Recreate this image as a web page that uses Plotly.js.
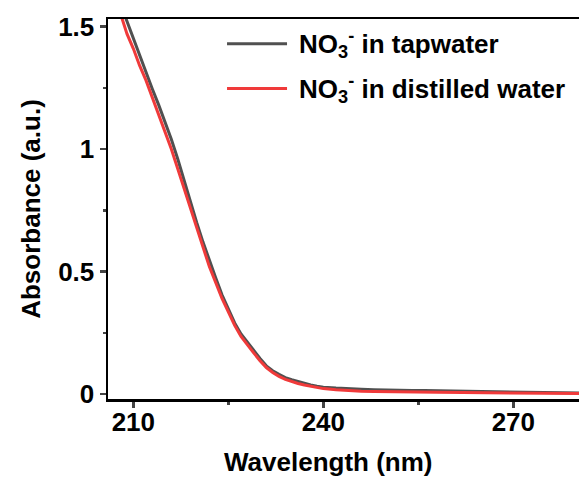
<!DOCTYPE html>
<html>
<head>
<meta charset="utf-8">
<script src="https://cdn.plot.ly/plotly-3.0.1.min.js"></script>
<style>
html,body{margin:0;padding:0;overflow:hidden;background:#fff;}
#chart{width:600px;height:486px;}
</style>
</head>
<body>
<div id="chart"></div>
<script>
// Wavelength (nm)
const wlTap = [208,209,210,211,212,213,214,215,216,217,218,219,220,221,222,223,224,225,226,227,228,229,230,231,232,233,234,235,236,237,238,239,240,242,244,246,248,250,252,254,256,258,260,262,264,266,268,270,272,274,276,278,280,282];
// Absorbance, NO3- in tapwater
const absTap = [1.59,1.52,1.45,1.38,1.31,1.245,1.18,1.11,1.04,0.96,0.87,0.79,0.70,0.62,0.545,0.475,0.405,0.35,0.29,0.245,0.21,0.18,0.145,0.115,0.095,0.08,0.067,0.058,0.05,0.043,0.037,0.032,0.028,0.024,0.02,0.019,0.017,0.015,0.016,0.014,0.014,0.013,0.012,0.013,0.011,0.010,0.009,0.008,0.007,0.006,0.005,0.004,0.004,0.003];
const wlDist = [208,209,210,211,212,213,214,215,216,217,218,219,220,221,222,223,224,225,226,227,228,229,230,231,232,233,234,235,236,237,238,239,240,242,244,246,248,250,254,258,262,266,270,274,278,282];
// Absorbance, NO3- in distilled water
const absDist = [1.55,1.47,1.41,1.34,1.28,1.21,1.14,1.07,1.00,0.92,0.84,0.76,0.675,0.595,0.52,0.455,0.39,0.335,0.28,0.235,0.20,0.168,0.136,0.108,0.088,0.072,0.06,0.05,0.043,0.037,0.031,0.026,0.022,0.017,0.013,0.011,0.010,0.009,0.008,0.007,0.006,0.005,0.004,0.003,0.002,0.002];
const seriesNames = ['NO<sub>3</sub><sup>-</sup> in tapwater','NO<sub>3</sub><sup>-</sup> in distilled water'];
const seriesColors = ['#505050','#f03a3a'];
const xTickVals = [210,240,270];
const yTickVals = [0,0.5,1,1.5];
const yTickText = ['0','0.5','1','1.5'];
const xTitle = 'Wavelength (nm)';
const yTitle = 'Absorbance (a.u.)';

const FONT = 'Liberation Sans, Arial, sans-serif';
const traces = [
  {x: wlTap, y: absTap, mode:'lines', name: seriesNames[0], line:{color:seriesColors[0], width:3}, showlegend:false},
  {x: wlDist, y: absDist, mode:'lines', name: seriesNames[1], line:{color:seriesColors[1], width:3}, showlegend:false}
];

const legendY = [0.935, 0.817];
const shapes = [];
const annotations = [];
seriesNames.forEach((n,i)=>{
  shapes.push({type:'line', xref:'paper', yref:'paper', x0:0.2506, x1:0.3769, y0:legendY[i], y1:legendY[i], line:{color:seriesColors[i], width:3}});
  annotations.push({xref:'paper', yref:'paper', x:0.397, y:legendY[i], xanchor:'left', yanchor:'middle', showarrow:false, text:n, font:{family:FONT, size:26, color:'#000', weight:700}});
});
annotations.push({xref:'paper', yref:'paper', x:0.463, y:-0.1658, xanchor:'center', yanchor:'middle', showarrow:false, text:xTitle, font:{family:FONT, size:26, color:'#000', weight:700}});

const layout = {
  width:600, height:486,
  margin:{l:108, r:17, t:19, b:87},
  paper_bgcolor:'#fff', plot_bgcolor:'#fff',
  font:{family:FONT, color:'#000', weight:700},
  xaxis:{
    range:[206,281], tickvals:xTickVals, ticks:'outside', ticklen:6, tickwidth:2.5,
    showline:true, linewidth:2.5, linecolor:'#000', mirror:true, showgrid:false, zeroline:false,
    tickfont:{family:FONT, size:26, weight:700}, ticklabelstandoff:-8,
    minor:{dtick:15, tick0:210, ticks:'outside', ticklen:3, tickwidth:2.5, showgrid:false}
  },
  yaxis:{
    range:[-0.0204,1.5306], tickvals:yTickVals, ticktext:yTickText, ticks:'outside', ticklen:6, tickwidth:2.5,
    showline:true, linewidth:2.5, linecolor:'#000', mirror:true, showgrid:false, zeroline:false,
    tickfont:{family:FONT, size:26, weight:700},
    minor:{dtick:0.25, tick0:0, ticks:'outside', ticklen:3, tickwidth:2.5, showgrid:false},
    title:{text:yTitle, font:{family:FONT, size:26, weight:700}, standoff:10}
  },
  shapes: shapes,
  annotations: annotations
};
Plotly.newPlot('chart', traces, layout, {displayModeBar:false, staticPlot:true});
</script>
</body>
</html>
